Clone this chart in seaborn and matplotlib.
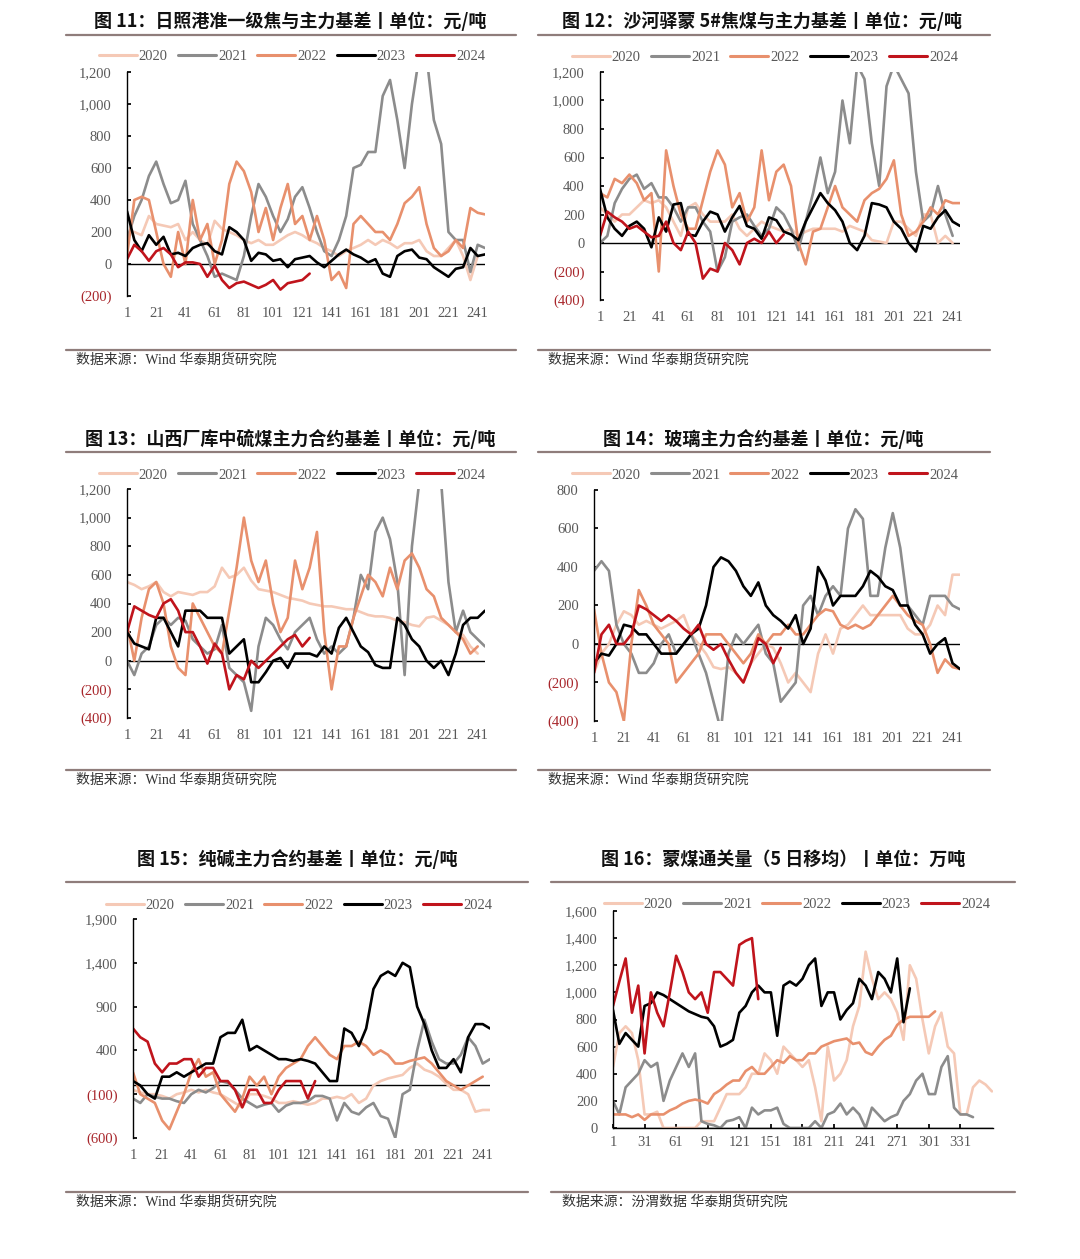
import matplotlib
matplotlib.use("Agg")
import matplotlib.pyplot as plt
from matplotlib.lines import Line2D
import seaborn as sns

sns.set_theme(style="white")
plt.rcParams["font.family"] = ["Liberation Serif", "Noto Sans CJK SC", "DejaVu Sans"]
plt.rcParams["axes.unicode_minus"] = False

W, H = 1080, 1259

YEARS = ["2020", "2021", "2022", "2023", "2024"]
COLORS = ["#F5C9B6", "#8C8C8C", "#E8906D", "#000000", "#C0141C"]

# 交易日序号（每5日取一个点）
DAYS5 = list(range(1, 247, 5))
# 图16按6日取点
DAYS6 = list(range(1, 362, 6))

# 图11 日照港准一级焦基差
p1_2020 = [200, 200, 180, 300, 250, 240, 230, 250, 150, 200, 150, 120, 270, 220, 200, 180, 150, 130, 150, 120,
           120, 150, 180, 200, 180, 150, 130, 100, 80, 50, 80, 100, 120, 150, 120, 150, 130, 100, 130, 130,
           150, 80, 50, 50, 100, 150, 50, -100, 50]
p1_2021 = [150, 300, 400, 550, 640, 500, 380, 400, 520, 250, 150, 50, -80, -60, -80, -100, 50, 300, 500, 420,
           300, 200, 280, 420, 480, 350, 200, 80, 50, 150, 300, 600, 620, 700, 700, 1050, 1150, 900, 600, 1000,
           1300, 1300, 900, 750, 200, 150, 150, -50, 120, 100]
p1_2022 = [50, 400, 420, 400, 200, 0, -80, 200, 0, 400, 150, 250, 0, 150, 500, 640, 580, 450, 200, 350,
           150, 350, 500, 250, 300, 150, 300, 150, -100, -50, -150, 250, 300, 250, 200, 200, 150, 250, 380, 420,
           480, 250, 100, 50, 80, 150, 100, 350, 320, 310]
p1_2023 = [330, 150, 80, 180, 120, 170, 60, 70, 50, 100, 120, 130, 80, 60, 230, 200, 150, 20, 70, 60,
           20, 30, -20, 30, 40, 50, 10, -20, 20, 60, 90, 60, 40, 10, 30, -60, -80, 50, 80, 90,
           40, 30, -20, -50, -80, -30, -20, 100, 50, 60]
p1_2024 = [30, 120, 80, 20, 80, 100, 60, -20, 10, 10, 0, -80, -10, -100, -150, -120, -110, -130, -150, -130,
           -100, -160, -120, -110, -100, -60]

# 图12 沙河驿蒙5#焦煤基差
p2_2020 = [250, 200, 150, 200, 200, 250, 300, 280, 300, 250, 150, 50, 250, 280, 200, 150, 150, 150, 200, 100,
           50, 100, 150, 120, 100, 80, 100, 50, 80, 100, 100, 100, 100, 80, 120, 100, 80, 20, 10, 0,
           150, 150, 100, 50, 200, 200, 0, 50, 0]
p2_2021 = [0, 50, 280, 380, 450, 480, 380, 420, 320, 320, 250, 150, 250, 250, 150, 80, -200, -100, 150, 180,
           200, 120, 50, 100, 250, 200, 100, -50, 150, 350, 600, 350, 500, 1000, 700, 1250, 1150, 700, 400, 1100,
           1250, 1150, 1050, 500, 150, 200, 400, 200, 50]
p2_2022 = [350, 320, 450, 420, 480, 420, 300, 350, -200, 650, 400, 200, 100, 100, 300, 500, 650, 550, 250, 350,
           150, 250, 650, 300, 500, 550, 400, 0, -150, 80, 100, 250, 400, 250, 200, 150, 300, 350, 380, 450,
           580, 200, 50, 80, 150, 250, 200, 300, 280, 280]
p2_2023 = [380, 180, 100, 50, 120, 150, 100, -30, 180, 80, 270, 280, 60, 50, 150, 220, 200, 80, 180, 260,
           120, 100, 30, 180, 160, 80, 60, 20, 150, 250, 350, 280, 230, 150, 0, -50, 50, 280, 270, 250,
           150, 100, 0, -60, 120, 100, 180, 230, 150, 120]
p2_2024 = [50, 220, 180, 150, 100, 120, 80, 40, 50, 150, 0, -50, 80, 0, -250, -180, -200, 0, -50, -150,
           0, 30, 0, 80, 0, 60]

# 图13 山西厂库中硫煤基差
p3_2020 = [550, 530, 500, 520, 550, 480, 450, 480, 470, 460, 480, 480, 520, 650, 580, 600, 650, 560, 500, 490,
           480, 460, 440, 430, 420, 400, 390, 380, 380, 370, 360, 360, 340, 320, 310, 310, 300, 280, 270, 250,
           240, 300, 310, 280, 250, 200, 180, 100, 50]
p3_2021 = [0, -100, 50, 100, 250, 300, 250, 300, 280, 150, 100, 50, 80, 250, -50, -100, -150, -350, 100, 300,
           250, 150, 80, 200, 250, 300, 150, 50, 100, 50, 100, 300, 600, 500, 900, 1000, 850, 550, -100, 800,
           1250, 1250, 1250, 1250, 550, 200, 350, 200, 150, 100]
p3_2022 = [250, 0, 300, 500, 550, 400, 100, -50, -100, 400, 300, 200, 100, 50, 350, 650, 1000, 700, 550, 700,
           400, 200, 300, 700, 500, 650, 900, 200, -200, 100, 100, 300, 450, 600, 550, 450, 650, 500, 700, 750,
           650, 500, 450, 300, 250, 200, 150, 50, 100]
p3_2023 = [200, 120, 100, 80, 300, 300, 200, 100, 350, 350, 350, 300, 300, 300, 50, 100, 150, -150, -150, -80,
           0, 20, -50, 50, 50, 50, 30, 100, 50, 230, 300, 200, 100, 60, -30, -50, -50, 300, 250, 150,
           100, 0, -50, 0, -100, 50, 250, 300, 300, 350]
p3_2024 = [200, 380, 350, 320, 300, 400, 430, 350, 200, 200, 100, -20, 120, 50, -200, -100, -130, 0, -50, 0,
           50, 100, 150, 180, 100, 160]

# 图14 玻璃基差
p4_2020 = [-150, -50, 0, 100, 170, 150, 100, 120, 100, 80, 100, 120, 150, 50, 0, -50, -120, -130, -120, -150,
           -200, -100, -50, 0, -20, -100, -200, -150, -200, -250, -50, 50, -50, 80, 100, 150, 200, 150, 150, 150,
           150, 150, 80, 50, 50, 100, 200, 150, 360, 360]
p4_2021 = [380, 430, 380, 100, 0, -50, -150, -150, -100, 0, 50, -50, 0, 50, -50, -150, -300, -450, -50, 50,
           0, 50, 100, -50, -100, -300, -250, -200, 200, 250, 150, 250, 300, 250, 600, 700, 650, 250, 250, 500,
           680, 500, 200, 150, 100, 250, 250, 250, 200, 180]
p4_2022 = [180, -50, -200, -250, -400, 0, 280, 200, 100, 50, 0, -200, -150, -100, -50, 50, 50, 50, 0, -50,
           -100, -50, 50, 0, 50, 50, 100, 50, 50, 100, 150, 180, 170, 100, 80, 100, 80, 100, 150, 200,
           250, 200, 150, 120, 100, 0, -150, -80, -120, -130]
p4_2023 = [-100, -50, -60, 0, 100, 90, 50, 50, 0, -50, -50, -50, 0, 50, 80, 200, 400, 450, 430, 380,
           300, 250, 320, 200, 150, 120, 80, 150, 0, 80, 400, 330, 200, 250, 250, 250, 300, 380, 350, 300,
           280, 200, 200, 100, 50, -50, 0, 30, -100, -130]
p4_2024 = [-150, 50, 100, 0, 0, 50, 200, 180, 150, 120, 150, 120, 80, 50, 100, 0, -30, 0, -80, -150,
           -200, -100, 30, 0, -100, -20]

# 图15 纯碱基差
p5_2020 = [-50, -80, -100, -100, -120, -150, -100, -80, -50, -80, -50, -80, -100, -150, -200, -250, -100, -100, -120, -150,
           -200, -200, -180, -200, -220, -200, -150, -150, -130, -150, -100, -200, -150, 0, 50, 80, 100, 120, 200, 250,
           180, 150, 100, 20, -50, -50, -100, -300, -280, -280]
p5_2021 = [-150, -200, -100, -130, -150, -150, -180, -200, -100, -50, -80, -30, 50, 30, -50, -150, -200, -250, -220, -200,
           -300, -230, -200, -200, -180, -120, -120, -150, -400, -200, -300, -330, -250, -200, -350, -380, -600, -100, -50, 400,
           750, 500, 300, 250, 250, 350, 550, 450, 250, 300]
p5_2022 = [150, -100, -150, -200, -400, -500, -300, -100, 150, 300, 100, 150, -100, -200, -300, -150, 100, 0, 100, -100,
           100, 200, 250, 300, 450, 550, 450, 350, 300, 450, 450, 500, 450, 350, 400, 350, 250, 250, 280, 300,
           320, 250, 150, 50, 0, -50, 0, 50, 100]
p5_2023 = [50, 0, -100, -150, 100, 100, 150, 100, 150, 200, 250, 250, 550, 600, 600, 750, 400, 450, 400, 350,
           300, 300, 280, 300, 280, 250, 150, 50, 50, 650, 600, 450, 650, 1100, 1250, 1300, 1250, 1400, 1350, 900,
           700, 400, 200, 200, 300, 150, 550, 700, 700, 650]
p5_2024 = [650, 550, 500, 250, 150, 250, 250, 300, 300, 100, 200, 200, 50, 50, -50, -250, -50, -50, -200, -200,
           -50, 50, 50, 50, -150, 50]

# 图16 蒙煤通关量（5日移均）
p6_2020 = [450, 700, 750, 700, 500, 100, 100, 120, 0, 0, 0, 0, 0, 0, 50, 50, 50, 150, 250, 250,
           250, 300, 400, 400, 550, 500, 400, 600, 550, 500, 450, 500, 300, 50, 600, 350, 400, 500, 750, 900,
           1300, 1100, 950, 1000, 950, 850, 650, 1200, 1100, 800, 550, 750, 850, 600, 550, 100, 100, 300, 350, 320,
           270]
p6_2021 = [200, 100, 300, 350, 400, 500, 450, 480, 200, 350, 450, 550, 450, 550, 50, 30, 20, 0, 50, 60,
           80, 0, 150, 100, 130, 130, 150, 30, 0, 0, 0, 0, 50, 0, 100, 120, 180, 100, 150, 100,
           0, 150, 100, 50, 80, 100, 200, 250, 350, 400, 250, 250, 450, 530, 150, 100, 100, 80]
p6_2022 = [100, 100, 100, 80, 100, 60, 100, 100, 100, 130, 150, 180, 200, 210, 200, 180, 250, 280, 320, 350,
           350, 420, 450, 400, 400, 450, 500, 480, 530, 500, 500, 550, 550, 600, 620, 640, 650, 660, 620, 630,
           560, 540, 600, 650, 680, 760, 800, 820, 820, 820, 820, 860]
p6_2023 = [870, 620, 700, 650, 600, 900, 920, 1000, 980, 950, 920, 890, 860, 840, 820, 810, 750, 600, 620, 650,
           850, 900, 1000, 1050, 1000, 1000, 680, 1050, 1080, 1050, 1100, 1200, 1250, 900, 1000, 1000, 800, 870, 920, 1100,
           1050, 950, 1150, 1100, 1000, 1250, 780, 1030]
p6_2024 = [900, 1080, 1250, 850, 1050, 550, 1000, 850, 750, 1000, 1270, 1150, 1000, 950, 1000, 850, 1150, 1150, 1100, 1050,
           1350, 1380, 1400, 950]

XT5 = list(range(1, 242, 20))
XT6 = list(range(1, 332, 30))

fig = plt.figure(figsize=(W / 100, H / 100), dpi=100)
fig.patch.set_facecolor("white")

TEXT_GRAY = "#595959"
NEG_RED = "#A8262B"
RULE = "#8F7D7B"


def fx(x):
    return x / W


def fy(y):
    return 1 - y / H


def fmt(v):
    return f"({abs(v):,})" if v < 0 else f"{v:,}"


def draw_panel(box, days, data, ylim, ystep, xlim, xticks, bottom_spine=False):
    l, r, t, b = box
    ax = fig.add_axes([fx(l), fy(b), (r - l) / W, (b - t) / H])
    ax.set_facecolor("white")
    ax.axhline(0, color="black", lw=1.0, zorder=1)
    for year, color, vals in zip(YEARS, COLORS, data):
        sns.lineplot(x=days[:len(vals)], y=vals, ax=ax, color=color, lw=1.9, legend=False, zorder=2)
    ax.set_xlim(*xlim)
    ax.set_ylim(*ylim)
    yt = list(range(ylim[0], ylim[1] + 1, ystep))
    ax.set_yticks(yt)
    ax.set_yticklabels([fmt(v) for v in yt], fontsize=10.5)
    for lab, v in zip(ax.get_yticklabels(), yt):
        lab.set_color(NEG_RED if v < 0 else TEXT_GRAY)
    ax.set_xticks(xticks)
    ax.set_xticklabels([str(v) for v in xticks], fontsize=10.5, color=TEXT_GRAY)
    ax.set_xlabel("")
    ax.set_ylabel("")
    for s in ["top", "right"]:
        ax.spines[s].set_visible(False)
    ax.spines["left"].set_color("black")
    ax.spines["left"].set_linewidth(1.0)
    ax.tick_params(axis="y", direction="in", length=3, color="black", pad=11, left=True)
    if bottom_spine:
        ax.spines["bottom"].set_color("black")
        ax.spines["bottom"].set_linewidth(1.0)
        ax.tick_params(axis="x", direction="in", length=3, color="black", pad=6, bottom=True)
    else:
        ax.spines["bottom"].set_visible(False)
        ax.tick_params(axis="x", length=0, pad=8)
    ax.grid(False)
    return ax


def legend_at(cx, cy):
    handles = [Line2D([], [], color=c, lw=2.2) for c in COLORS]
    leg = fig.legend(handles, YEARS, loc="center", bbox_to_anchor=(fx(cx), fy(cy)), ncol=5, frameon=False,
                     fontsize=10.5, handlelength=2.6, handletextpad=0.15, columnspacing=0.7)
    for txt in leg.get_texts():
        txt.set_color(TEXT_GRAY)


def header(title, cx, ty, x0, x1, ly):
    fig.text(fx(cx), fy(ty), title, ha="center", va="center", fontsize=13, fontweight="bold",
             family=["Noto Sans CJK SC"], color="#111111")
    fig.add_artist(Line2D([fx(x0), fx(x1)], [fy(ly), fy(ly)], color=RULE, lw=1.6))


def footer(text, tx, ty, x0, x1, ly):
    fig.add_artist(Line2D([fx(x0), fx(x1)], [fy(ly), fy(ly)], color=RULE, lw=1.6))
    fig.text(fx(tx), fy(ty), text, ha="left", va="center", fontsize=10,
             family=["Liberation Serif", "Noto Sans CJK SC"], color="#333333")


# 第一行
draw_panel((127, 485, 72, 296), DAYS5, [p1_2020, p1_2021, p1_2022, p1_2023, p1_2024], (-200, 1200), 200, (1, 246), XT5)
draw_panel((600, 960, 72, 300), DAYS5, [p2_2020, p2_2021, p2_2022, p2_2023, p2_2024], (-400, 1200), 200, (1, 246), XT5)
header("图 11：日照港准一级焦与主力基差丨单位：元/吨", 290, 21, 66, 516, 35)
header("图 12：沙河驿蒙 5#焦煤与主力基差丨单位：元/吨", 762, 21, 538, 990, 35)
legend_at(292, 56)
legend_at(765, 57)
footer("数据来源：Wind 华泰期货研究院", 76, 360, 66, 516, 350)
footer("数据来源：Wind 华泰期货研究院", 548, 360, 538, 990, 350)

# 第二行
draw_panel((127, 485, 489, 718), DAYS5, [p3_2020, p3_2021, p3_2022, p3_2023, p3_2024], (-400, 1200), 200, (1, 246), XT5)
draw_panel((594, 960, 490, 721), DAYS5, [p4_2020, p4_2021, p4_2022, p4_2023, p4_2024], (-400, 800), 200, (1, 246), XT5)
header("图 13：山西厂库中硫煤主力合约基差丨单位：元/吨", 290, 439, 66, 516, 452)
header("图 14：玻璃主力合约基差丨单位：元/吨", 763, 439, 538, 990, 452)
legend_at(292, 475)
legend_at(765, 475)
footer("数据来源：Wind 华泰期货研究院", 76, 780, 66, 516, 770)
footer("数据来源：Wind 华泰期货研究院", 548, 780, 538, 990, 770)

# 第三行
draw_panel((133, 490, 919, 1138), DAYS5, [p5_2020, p5_2021, p5_2022, p5_2023, p5_2024], (-600, 1900), 500, (1, 246), XT5)
draw_panel((613, 993, 911, 1128), DAYS6, [p6_2020, p6_2021, p6_2022, p6_2023, p6_2024], (0, 1600), 200, (1, 362), XT6,
           bottom_spine=True)
header("图 15：纯碱主力合约基差丨单位：元/吨", 297, 859, 66, 528, 882)
header("图 16：蒙煤通关量（5 日移均）丨单位：万吨", 783, 859, 551, 1015, 882)
legend_at(299, 905)
legend_at(797, 904)
footer("数据来源：Wind 华泰期货研究院", 76, 1202, 66, 528, 1192)
footer("数据来源：汾渭数据 华泰期货研究院", 562, 1202, 551, 1015, 1192)

fig.savefig("out.png", dpi=100, facecolor="white")
